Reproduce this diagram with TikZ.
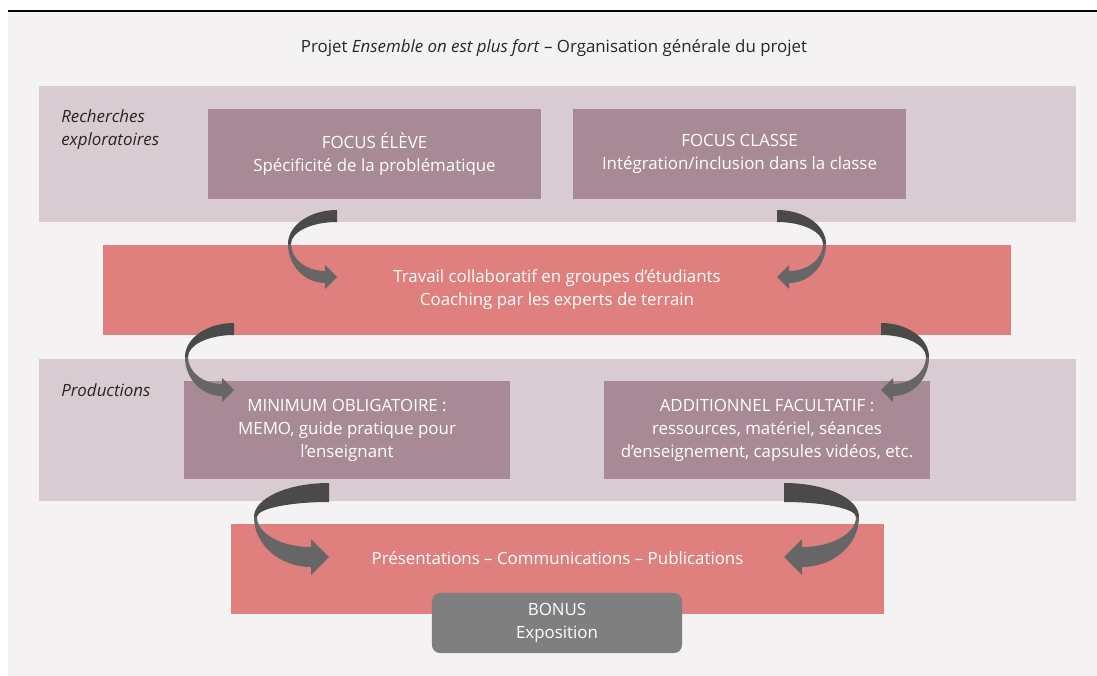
\documentclass[tikz,border=0pt]{standalone}
\usepackage{fontspec}
\setmainfont{Open Sans}
\usepackage{tikz}
\usetikzlibrary{positioning}

\definecolor{fond}{HTML}{F4F2F3}
\definecolor{mauveclair}{HTML}{D8CBD1}
\definecolor{mauve}{HTML}{A88A96}
\definecolor{rouge}{HTML}{DF807E}
\definecolor{gris}{HTML}{7F7F7F}
\definecolor{flechehaut}{HTML}{4A4A48}
\definecolor{flechebas}{HTML}{666666}

% fleche courbe : x, y de la queue, sens, largeur, epaisseur, y pointe, demi-corps, tete
\newcommand{\flechecourbe}[8]{%
  \begin{scope}[shift={(#1,#2)}, xscale=#3]
    \fill[flechehaut] (0,0) .. controls ({-0.552*#4},0) and ({-#4},{34-0.552*34}) .. ({-#4},34)
      -- ({-#4+3},34) .. controls ({-(#4-3)},{34-0.552*(34-#5)}) and ({-0.552*(#4-3)},#5) .. (0,#5) -- cycle;
    \fill[flechebas] ({-#4},34) .. controls ({-#4},{34+0.552*(#6+#7-34)}) and ({-#8-0.552*(#4-#8)},{#6+#7}) .. ({-#8},{#6+#7})
      -- ({-#8},{#6+#8}) -- (0,#6) -- ({-#8},{#6-#8}) -- ({-#8},{#6-#7})
      .. controls ({-#8-0.552*(#4-#8-3)},{#6-#7}) and ({-#4+3},{34+0.552*(#6-#7-34)}) .. ({-#4+3},34) -- cycle;
  \end{scope}}

\begin{document}
\begin{tikzpicture}[x=0.025cm, y=-0.025cm,
    every node/.style={font=\fontsize{12}{16.4}\selectfont, inner sep=0pt},
    bande/.style={fill=mauveclair, minimum width=25.925cm},
    boite/.style={fill=mauve, text=white, align=center},
    rouge/.style={fill=rouge, text=white, align=center, minimum height=2.25cm}]

    % --- fond ---
    \useasboundingbox (0,0) rectangle (1097,676);
    \fill[fond] (8,12) rectangle (1097,676);
    \draw[line width=0.8pt] (8,11) -- (1097,11);

    \node[text=black!85] (titre) at (554,48)
        {Projet \textit{Ensemble on est plus fort} – Organisation générale du projet};

    % --- recherches ---
    \node[bande, minimum height=3.4cm] (rech) at (557.5,154) {};
    \node[anchor=west, align=left, text=black!85, font=\fontsize{12}{16.4}\selectfont\itshape]
        (rechtxt) at (61,130) {Recherches\\exploratoires};
    \node[boite, minimum width=8.325cm, minimum height=2.25cm] (eleve) at (374.5,154)
        {FOCUS ÉLÈVE\\Spécificité de la problématique};
    \node[boite, minimum width=8.325cm, minimum height=2.25cm] (classe) at (739.5,154)
        {FOCUS CLASSE\\Intégration/inclusion dans la classe};

    % --- travail ---
    \node[rouge, minimum width=22.7cm] (travail) at (557,290)
        {Travail collaboratif en groupes d’étudiants\\Coaching par les experts de terrain};

    % --- productions ---
    \node[bande, minimum height=3.55cm] (prod) at (557.5,430) {};
    \node[anchor=west, text=black!85, font=\fontsize{12}{16.4}\selectfont\itshape]
        (prodtxt) at (61,390) {Productions};
    \node[boite, minimum width=8.15cm, minimum height=2.45cm] (minimum) at (347,430)
        {MINIMUM OBLIGATOIRE :\\MEMO, guide pratique pour\\l’enseignant};
    \node[boite, minimum width=8.15cm, minimum height=2.45cm] (addit) at (767,430)
        {ADDITIONNEL FACULTATIF :\\ressources, matériel, séances\\d’enseignement, capsules vidéos, etc.};

    % --- presentations ---
    \node[rouge, minimum width=16.325cm] (pres) at (557.5,569) {};
    \node[text=white] (prestxt) at (557.5,558) {Présentations – Communications – Publications};
    \node[fill=gris, text=white, align=center, rounded corners=0.2cm,
        minimum width=6.25cm, minimum height=1.5cm] (bonus) at (557,623) {BONUS\\Exposition};

    % --- fleches ---
    \flechecourbe{337}{210}{1}{49}{12}{67}{6}{12}
    \flechecourbe{777}{210}{-1}{49}{12}{67}{6}{12}
    \flechecourbe{234}{323}{1}{49}{12}{67}{6}{12}
    \flechecourbe{881}{323}{-1}{48}{12}{67}{6}{12}
    \flechecourbe{329}{483}{1}{75}{19}{74}{10}{18}
    \flechecourbe{784}{483}{-1}{75}{19}{74}{10}{18}
\end{tikzpicture}
\end{document}
